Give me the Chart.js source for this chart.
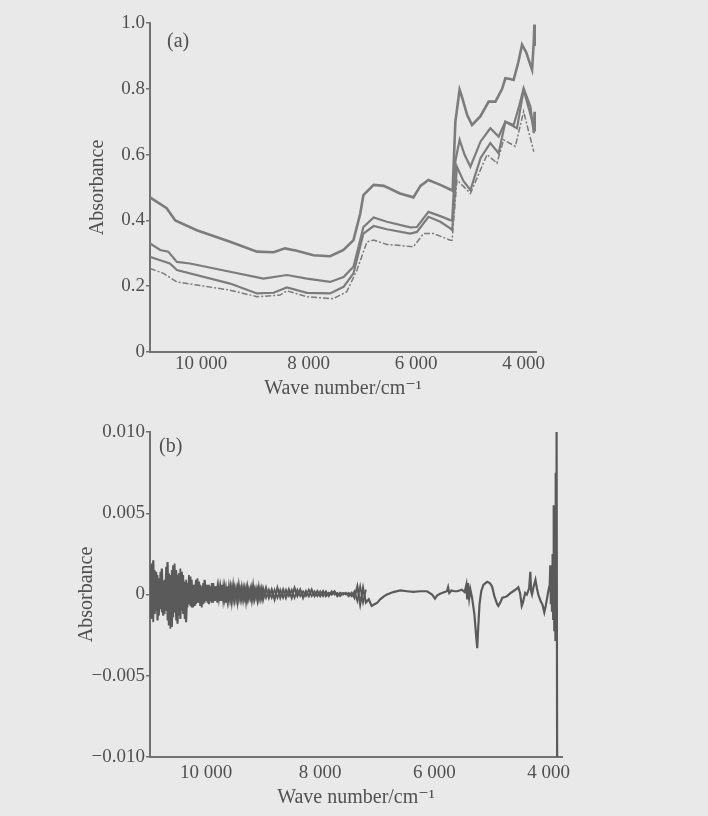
<!DOCTYPE html>
<html>
<head>
<meta charset="utf-8">
<title>NIR spectra</title>
<script src="https://cdn.jsdelivr.net/npm/chart.js@4.4.0/dist/chart.umd.min.js"></script>
<style>
  html, body { margin: 0; padding: 0; background: #e9e9e9; }
  #wrap { position: relative; width: 708px; height: 816px; overflow: hidden; }
  #chartA { position: absolute; left: 0; top: 0; }
  #chartB { position: absolute; left: 0; top: 410px; }
</style>
</head>
<body>
<div id="wrap">
  <canvas id="chartA" width="708" height="405"></canvas>
  <canvas id="chartB" width="708" height="406"></canvas>
</div>
<script>
// (a) raw spectra, wave number (cm-1) / absorbance
const waveA1 = [10950,10640,10480,10080,9460,8960,8650,8440,8220,7910,7600,7350,7165,7040,6980,6790,6600,6300,6050,5920,5770,5550,5365,5320,5270,5191,5150,5050,4960,4806,4650,4525,4400,4340,4250,4186,4100,4030,3950,3906,3843,3812,3800,3790];
const absA1  = [0.47,0.437,0.40,0.37,0.335,0.305,0.303,0.315,0.308,0.294,0.291,0.31,0.34,0.42,0.477,0.508,0.505,0.482,0.47,0.505,0.523,0.508,0.494,0.49,0.70,0.797,0.777,0.72,0.69,0.716,0.761,0.761,0.80,0.832,0.83,0.827,0.88,0.934,0.91,0.888,0.858,0.94,0.995,0.93];

const waveA2 = [10950,10760,10610,10450,10205,9460,8840,8405,8030,7600,7350,7165,6980,6790,6545,6110,5985,5770,5550,5365,5330,5270,5191,5100,4990,4800,4620,4465,4340,4186,4080,4000,3874,3812,3800,3790];
const absA2  = [0.33,0.31,0.305,0.274,0.269,0.244,0.223,0.234,0.223,0.213,0.228,0.259,0.38,0.409,0.396,0.379,0.38,0.426,0.413,0.401,0.40,0.58,0.645,0.60,0.563,0.64,0.68,0.655,0.70,0.69,0.75,0.802,0.746,0.665,0.73,0.67];

const waveA3 = [10950,10760,10580,10450,9460,8960,8650,8405,8030,7600,7350,7165,6980,6790,6545,6110,5985,5770,5550,5365,5330,5240,5120,4990,4800,4620,4465,4340,4123,4000,3812,3800];
const absA3  = [0.289,0.279,0.269,0.249,0.208,0.178,0.18,0.196,0.18,0.178,0.198,0.239,0.36,0.383,0.373,0.36,0.365,0.411,0.396,0.376,0.37,0.563,0.52,0.492,0.59,0.635,0.604,0.70,0.68,0.797,0.685,0.71];

const waveA4 = [10950,10700,10450,9460,8960,8530,8405,8030,7540,7290,7100,6915,6790,6545,6050,5860,5675,5365,5330,5240,4990,4680,4496,4372,4154,4000,3812];
const absA4  = [0.254,0.239,0.213,0.188,0.168,0.173,0.186,0.168,0.162,0.183,0.249,0.335,0.34,0.327,0.32,0.36,0.36,0.34,0.34,0.523,0.482,0.60,0.574,0.645,0.625,0.731,0.609];

// (b) difference spectra, absorbance in units of 0.001
const waveB = [
  10975,10950,10925,10900,10875,10850,10825,10800,10775,10750,
  10725,10700,10675,10650,10625,10600,10575,10550,10525,10500,
  10475,10450,10425,10400,10375,10350,10325,10300,10275,10250,
  10225,10200,10175,10150,10125,10100,10075,10050,10025,10000,
  9975,9950,9925,9900,9875,9850,9825,9800,9775,9750,
  9725,9700,9675,9650,9625,9600,9575,9550,9525,9500,
  9475,9450,9425,9400,9375,9350,9325,9300,9275,9250,
  9225,9200,9175,9150,9125,9100,9075,9050,9025,9000,
  8950,8900,8850,8800,8750,8700,8650,8600,8550,8500,
  8450,8400,8350,8300,8250,8200,8150,8100,8050,8000,
  7950,7900,7850,7800,7750,7700,7650,7600,7550,7500,
  7450,7400,7350,7300,7250,7200,
  7150,7100,7050,7000,6950,6880,6830,6720,6600,6480,
  6370,6250,6130,6040,5990,5950,5900,5820,5780,5760,
  5740,5700,5650,5600,5520,5470,5440,5425,5410,5390,
  5370,5340,5300,5270,5250,5235,5210,5180,5140,5075,
  5030,4990,4950,4900,4880,4840,4810,4760,4725,4680,
  4620,4560,4530,4500,4470,4450,4410,4380,4340,4320,
  4305,4290,4260,4230,4200,4180,4140,4110,4075,4050,
  4025,4000,3980,3970,3960,3950,3940,3930,3920,3910,
  3900,3890,3880,3875,3870,3860,3850
];
const absB = [
  1.8,-1.5,2.1,-1.2,1.4,-1.6,1.0,-0.9,1.6,-1.3,
  0.9,-1.0,2.0,-1.9,1.2,-2.0,1.8,-1.1,1.5,-1.8,
  1.3,-1.5,1.4,-1.2,0.8,-1.7,0.7,-0.6,1.1,-0.8,
  0.6,-0.7,0.9,-0.5,0.8,-0.7,0.5,-0.6,0.9,-0.4,
  0.6,-0.6,0.5,-0.5,0.7,-0.4,0.5,-0.5,0.4,-0.4,
  0.6,-0.3,0.4,-0.5,0.5,-0.3,0.4,-0.4,0.5,-0.3,
  0.3,-0.4,0.5,-0.2,0.4,-0.3,0.3,-0.4,0.4,-0.2,
  0.3,-0.3,0.5,-0.2,0.3,-0.3,0.4,-0.2,0.3,-0.3,
  0.4,-0.2,0.3,-0.3,0.4,-0.2,0.3,-0.2,0.3,-0.2,
  0.4,-0.1,0.3,-0.2,0.2,-0.1,0.3,-0.1,0.2,-0.1,
  0.2,-0.1,0.1,0.0,0.2,-0.1,0.1,0.0,0.1,-0.1,
  0.1,-0.2,0.5,-0.6,0.4,-0.5,
  -0.3,-0.7,-0.6,-0.5,-0.3,-0.1,0.0,0.15,0.25,0.2,
  0.16,0.2,0.2,0.0,-0.25,-0.05,0.05,0.15,0.2,0.45,
  0.1,0.25,0.2,0.2,0.3,0.15,0.6,-0.3,0.7,-0.2,
  0.3,-0.2,-1.2,-2.5,-3.3,-2.2,-0.6,0.2,0.6,0.78,
  0.7,0.5,-0.1,-0.6,-0.7,-0.45,-0.2,-0.15,-0.1,0.05,
  0.2,0.35,0.45,0.1,-0.7,-0.5,0.1,0.0,0.4,1.4,
  0.2,0.0,0.5,0.9,0.3,0.0,-0.4,-0.6,-1.1,-0.7,
  -0.2,0.3,0.6,1.8,-0.6,1.5,-1.0,2.5,-1.5,5.5,
  -2.2,3.5,-2.8,7.5,-2.0,10.5,-10.5
];
// second overlapping spectrum over the noisy part (same wave numbers as the first 116 of waveB)
const absB2 = [
  -1.4,1.9,-1.7,1.5,-1.0,1.2,-1.3,1.4,-1.1,0.8,
  -1.2,1.7,-1.6,1.3,-2.1,1.5,-1.4,1.9,-1.6,1.2,
  -1.3,1.6,-1.0,1.2,-1.5,0.9,-0.8,1.2,-0.7,0.9,
  -0.8,0.6,-0.6,1.0,-0.5,0.6,-0.8,0.7,-0.5,0.6,
  -0.5,0.6,-0.4,0.7,-0.5,0.5,-0.4,0.5,-0.3,0.5,
  -0.4,0.5,-0.3,0.4,-0.4,0.5,-0.3,0.4,-0.3,0.4,
  -0.3,0.4,-0.3,0.3,-0.3,0.4,-0.2,0.4,-0.3,0.3,
  -0.2,0.4,-0.3,0.3,-0.2,0.3,-0.3,0.3,-0.2,0.4,
  -0.2,0.3,-0.2,0.3,-0.2,0.3,-0.2,0.3,-0.1,0.3,
  -0.2,0.3,-0.1,0.2,-0.1,0.3,-0.1,0.2,-0.1,0.2,
  -0.1,0.2,-0.1,0.2,0.0,0.1,-0.1,0.1,0.0,0.1,
  -0.1,0.2,-0.4,0.5,-0.5,0.3
];

// tick values and labels
const xTickValues = [10000, 8000, 6000, 4000];
const xTickLabels = ['10 000', '8 000', '6 000', '4 000'];
const yTickValuesA = [0, 0.2, 0.4, 0.6, 0.8, 1.0];
const yTickLabelsA = ['0', '0.2', '0.4', '0.6', '0.8', '1.0'];
const yTickValuesB = [-10, -5, 0, 5, 10];
const yTickLabelsB = ['\u22120.010', '\u22120.005', '0', '0.005', '0.010'];

const FONT = '"Liberation Serif", "DejaVu Serif", serif';
const TEXT = '#505050';
const AXIS = '#727272';

const pts = (w, a) => a.map((y, i) => ({ x: w[i], y: y }));

const panelLabel = {
  id: 'panelLabel',
  afterDraw(chart, args, opts) {
    const { ctx, chartArea } = chart;
    ctx.save();
    ctx.font = '20px ' + FONT;
    ctx.fillStyle = TEXT;
    ctx.fillText(opts.text, chartArea.left + opts.dx, chartArea.top + opts.dy);
    ctx.restore();
  }
};

function xScale(min, max, pad) {
  return {
    type: 'linear', reverse: true, min: min, max: max,
    afterBuildTicks: s => { s.ticks = xTickValues.map(v => ({ value: v })); },
    afterFit: s => { s.height = pad.h; },
    ticks: {
      color: TEXT, font: { family: FONT, size: 19 }, padding: pad.tp, maxRotation: 0,
      callback: v => xTickLabels[xTickValues.indexOf(v)]
    },
    grid: { drawOnChartArea: false, drawTicks: false },
    border: { color: AXIS, width: 2 },
    title: { display: true, text: 'Wave number/cm\u207B\u00B9', color: TEXT, font: { family: FONT, size: 20 } }
  };
}

function yScale(min, max, values, labels, width) {
  return {
    type: 'linear', min: min, max: max,
    afterBuildTicks: s => { s.ticks = values.map(v => ({ value: v })); },
    afterFit: s => { s.width = width; },
    ticks: {
      color: TEXT, font: { family: FONT, size: 19 }, padding: 1,
      callback: v => labels[values.indexOf(v)]
    },
    grid: { drawOnChartArea: false, drawTicks: true, tickLength: 4, color: AXIS, lineWidth: 1.5 },
    border: { color: AXIS, width: 2 },
    title: { display: true, text: 'Absorbance', color: TEXT, font: { family: FONT, size: 20 } }
  };
}

const lineColA = '#7c7c7c';
const lineColB = '#5a5a5a';

new Chart(document.getElementById('chartA').getContext('2d'), {
  type: 'line',
  data: {
    datasets: [
      { data: pts(waveA1, absA1), borderColor: lineColA, borderWidth: 2.6 },
      { data: pts(waveA2, absA2), borderColor: lineColA, borderWidth: 2.2 },
      { data: pts(waveA3, absA3), borderColor: lineColA, borderWidth: 2.2 },
      { data: pts(waveA4, absA4), borderColor: lineColA, borderWidth: 1.5, borderDash: [6, 2, 2, 2] }
    ]
  },
  options: {
    responsive: false, animation: false,
    elements: { point: { radius: 0 }, line: { tension: 0 } },
    layout: { padding: { left: 82, top: 23, right: 172, bottom: 0 } },
    scales: {
      x: xScale(3770, 10950, { h: 53, tp: 1 }),
      y: yScale(0, 1.0, yTickValuesA, yTickLabelsA, 68)
    },
    plugins: {
      legend: { display: false }, tooltip: { enabled: false },
      panelLabel: { text: '(a)', dx: 17, dy: 24 }
    }
  },
  plugins: [panelLabel]
});

new Chart(document.getElementById('chartB').getContext('2d'), {
  type: 'line',
  data: {
    datasets: [
      { data: pts(waveB, absB2), borderColor: lineColB, borderWidth: 1.8 },
      { data: pts(waveB, absB), borderColor: lineColB, borderWidth: 2.2 }
    ]
  },
  options: {
    responsive: false, animation: false,
    elements: { point: { radius: 0 }, line: { tension: 0 } },
    layout: { padding: { left: 71, top: 22, right: 146, bottom: 2 } },
    scales: {
      x: xScale(3765, 10982, { h: 57, tp: 5 }),
      y: yScale(-10, 10, yTickValuesB, yTickLabelsB, 79)
    },
    plugins: {
      legend: { display: false }, tooltip: { enabled: false },
      panelLabel: { text: '(b)', dx: 9, dy: 20 }
    }
  },
  plugins: [panelLabel]
});
</script>
</body>
</html>
